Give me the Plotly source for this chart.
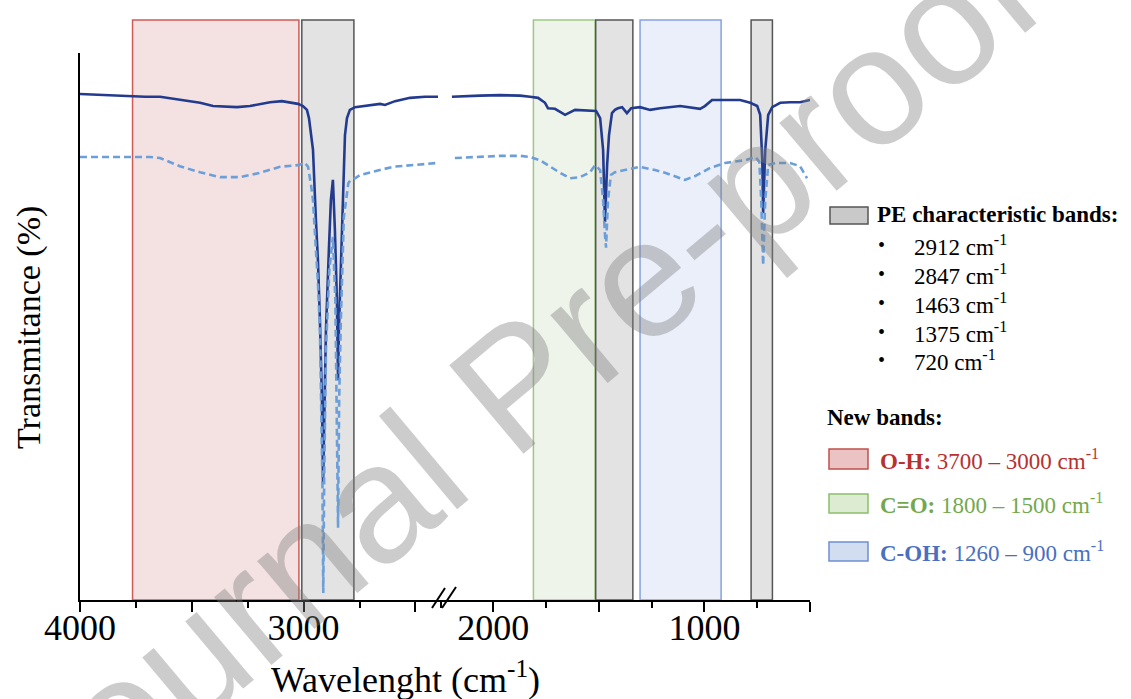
import plotly.graph_objects as go

# ---------------- data ----------------
# Spectrum 1 (solid, dark blue)
solid_wn = [4000, 3790, 3709, 3642, 3553, 3463, 3405, 3298, 3240, 3150, 3097, 3025, 3003, 2985,
            2976, 2967, 2958, 2945, 2936, 2927, 2918, 2913, 2909, 2900, 2887, 2878, 2869, 2860,
            2851, 2846, 2842, 2833, 2829, 2820, 2815, 2806, 2793, 2770, 2726, 2658, 2636, 2591,
            2524, 2457, 2399,
            2196, 2144, 2063, 1968, 1873, 1826, 1788, 1755, 1741, 1708, 1660, 1613, 1542, 1513,
            1494, 1480, 1471, 1461, 1452, 1438, 1424, 1410, 1390, 1367, 1347, 1305, 1257, 1210,
            1115, 1021, 998, 964, 831, 783, 750, 736, 726, 722, 712, 698, 679, 641, 594, 547, 500]
solid_T = [92.5, 92.1, 92.0, 92.0, 91.4, 90.9, 90.3, 90.1, 90.3, 91.0, 91.2, 90.7, 90.3, 89.6,
           88.1, 85.0, 82.3, 69.5, 62.2, 51.2, 36.6, 21.4, 32.9, 49.4, 64.0, 73.1, 76.8, 67.6,
           54.8, 40.2, 49.4, 60.3, 64.0, 78.6, 85.0, 88.1, 89.6, 90.1, 90.3, 90.7, 90.5, 91.2,
           91.8, 92.0, 92.0,
           92.0, 92.1, 92.2, 92.3, 92.2, 92.0, 91.8, 90.9, 89.9, 89.8, 88.7, 89.6, 89.4, 89.4,
           88.1, 82.3, 69.1, 79.5, 85.0, 89.0, 89.6, 89.9, 90.1, 89.0, 89.9, 90.1, 89.6, 89.9,
           90.3, 89.8, 90.3, 91.4, 91.4, 90.9, 90.3, 88.7, 80.4, 70.7, 82.3, 88.7, 90.1, 90.9,
           91.0, 91.0, 91.4]

# Spectrum 2 (dashed, light blue)
dashed_wn = [4000, 3821, 3687, 3642, 3598, 3553, 3463, 3374, 3284, 3195, 3106, 3025, 2994, 2980,
             2967, 2958, 2945, 2936, 2927, 2922, 2916, 2912, 2908, 2900, 2885, 2869, 2858, 2850,
             2846, 2841, 2833, 2820, 2800, 2790, 2770, 2747, 2658, 2600, 2400,
             2182, 2063, 1968, 1873, 1826, 1779, 1731, 1684, 1637, 1589, 1542, 1518, 1494, 1480,
             1471, 1466, 1457, 1443, 1424, 1376, 1305, 1234, 1187, 1092, 1044, 973, 902, 807,
             759, 740, 731, 722, 712, 698, 665, 594, 547, 514]
dashed_T = [81.0, 81.0, 81.0, 80.8, 80.1, 79.3, 78.2, 77.3, 77.3, 78.1, 79.2, 79.5, 79.9, 79.2,
            75.9, 73.1, 64.0, 58.0, 49.4, 39.7, 21.9, 1.3, 21.9, 45.7, 60.3, 66.4, 54.8, 27.4,
            13.2, 36.6, 51.7, 70.0, 76.2, 76.8, 77.1, 77.7, 78.6, 79.2, 79.9,
            80.8, 81.0, 81.2, 81.2, 81.0, 80.4, 79.2, 78.1, 77.1, 77.3, 78.2, 79.5, 78.6, 73.1,
            66.7, 64.4, 73.1, 77.7, 78.2, 78.6, 79.2, 78.6, 78.1, 76.8, 77.5, 79.0, 79.9, 80.4,
            81.0, 80.1, 73.1, 61.2, 73.1, 79.5, 79.9, 79.9, 79.3, 77.1]

# Highlighted bands (wavenumber limits as drawn)
oh_band = [3765, 3021]
pe_band_1 = [3008, 2775]
co_band = [1810, 1518]
pe_band_2 = [1515, 1339]
coh_band = [1305, 921]
pe_band_3 = [779, 678]

# Axis ranges / ticks
left_range = [4000, 2390]
right_range = [2252.5, 500]
major_step = 500
minor_step = 250

# Legend texts
pe_labels = ["2912", "2847", "1463", "1375", "720"]
new_band_labels = ["<b>O-H:</b> 3700 – 3000 cm<sup>-1</sup>",
                   "<b>C=O:</b> 1800 – 1500 cm<sup>-1</sup>",
                   "<b>C-OH:</b> 1260 – 900 cm<sup>-1</sup>"]

BREAK = 2300  # wavenumber gap separating the two axis segments

# ---------------- geometry helpers ----------------
W, H = 1131, 699
PL, PR, PT, PB = 80, 810, 53, 600


def fx(px):
    return (px - PL) / (PR - PL)


def fy(py):
    return (PB - py) / (PB - PT)


split = fx(440)
SERIF = "Liberation Serif"

SOLID_C = "#233B8E"
DASH_C = "#6C9FDA"

fig = go.Figure()


def seg(xs, ys, left):
    pts = [(a, b) for a, b in zip(xs, ys) if (a >= BREAK) == left]
    return [p[0] for p in pts], [p[1] for p in pts]


for left, xa in [(True, "x"), (False, "x2")]:
    x, y = seg(solid_wn, solid_T, left)
    fig.add_trace(go.Scatter(x=x, y=y, xaxis=xa, yaxis="y", mode="lines",
                             line=dict(color=SOLID_C, width=2.6), hoverinfo="skip"))
for left, xa in [(True, "x"), (False, "x2")]:
    x, y = seg(dashed_wn, dashed_T, left)
    fig.add_trace(go.Scatter(x=x, y=y, xaxis=xa, yaxis="y", mode="lines",
                             line=dict(color=DASH_C, width=2.6, dash="7px,4px"),
                             hoverinfo="skip"))

# ---------------- band rectangles ----------------
rect_top = fy(20)
bands = [
    (oh_band, "x", "#F4E2E2", "#CF5B57"),
    (pe_band_1, "x", "#E3E3E3", "#555555"),
    (co_band, "x2", "#EEF4EA", "#9DC783"),
    (pe_band_2, "x2", "#E3E3E3", "#555555"),
    (coh_band, "x2", "#EAEFF9", "#86A3DF"),
    (pe_band_3, "x2", "#E3E3E3", "#555555"),
]
for rng, xa, fill, edge in bands:
    fig.add_shape(type="rect", xref=xa, yref="paper", x0=rng[0], x1=rng[1],
                  y0=0, y1=rect_top, fillcolor=fill,
                  line=dict(color=edge, width=1.5), layer="below")

# axis break marks
for (x0, y0, x1, y1) in [(432, 608, 445, 588), (442, 608, 456, 587)]:
    fig.add_shape(type="line", xref="paper", yref="paper",
                  x0=fx(x0), y0=fy(y0), x1=fx(x1), y1=fy(y1),
                  line=dict(color="black", width=2))


# ---------------- legend (custom) ----------------
def box(x0, y0, x1, y1, fill, edge):
    fig.add_shape(type="rect", xref="paper", yref="paper",
                  x0=fx(x0), x1=fx(x1), y0=fy(y1), y1=fy(y0),
                  fillcolor=fill, line=dict(color=edge, width=1.5))


def text(x, y, s, size=23, color="black", anchor="left", angle=0):
    fig.add_annotation(xref="paper", yref="paper", x=fx(x), y=fy(y), text=s,
                       showarrow=False, xanchor=anchor, yanchor="middle",
                       textangle=angle,
                       font=dict(family=SERIF, size=size, color=color))


box(830, 207, 868, 224, "#C9C9C9", "#555555")
text(875, 215, "<b>PE characteristic bands:</b>")
rows_y = [245, 274, 303, 332, 360]
for lbl, yy in zip(pe_labels, rows_y):
    text(876, yy, "•", size=20)
    text(912, yy, f"{lbl} cm<sup>-1</sup>")

text(825, 417, "<b>New bands:</b>")
legend_styles = [
    (449, 469, "#EBC3C3", "#C0504D", "#B8312F"),
    (494, 513, "#DDEBD3", "#8CBF6A", "#74A84C"),
    (542, 561, "#D3DDF1", "#6F8FD4", "#4A6FC1"),
]
for lbl, (y0, y1, fill, edge, tcol) in zip(new_band_labels, legend_styles):
    box(829, y0, 868, y1, fill, edge)
    text(878, (y0 + y1) / 2, lbl, color=tcol)

# axis titles
text(405, 677, "Wavelenght (cm<sup>-1</sup>)", size=36, anchor="center")
text(29, 328, "Transmitance (%)", size=34, anchor="center", angle=-90)

# watermark
fig.add_annotation(xref="paper", yref="paper", x=fx(515), y=fy(385),
                   text="Journal Pre-proof", showarrow=False, textangle=-40,
                   xanchor="center", yanchor="middle",
                   font=dict(family="Liberation Sans", size=168,
                             color="rgba(128,128,128,0.40)"))

# ---------------- axes ----------------
axis_common = dict(showgrid=False, zeroline=False, showline=True, linecolor="black",
                   linewidth=2, ticks="outside", ticklen=10, tickwidth=2,
                   tickcolor="black", tickmode="linear", tick0=0, dtick=major_step,
                   ticklabelstep=2, ticklabelstandoff=-15,
                   tickfont=dict(family=SERIF, size=36, color="black"),
                   minor=dict(tickmode="linear", tick0=0, dtick=minor_step,
                              ticks="outside", ticklen=6, tickwidth=2,
                              tickcolor="black", showgrid=False))

fig.update_layout(
    width=W, height=H,
    margin=dict(l=PL, r=W - PR, t=PT, b=H - PB, pad=0),
    plot_bgcolor="white", paper_bgcolor="white", showlegend=False,
    xaxis=dict(domain=[0, split], range=left_range, anchor="y", **axis_common),
    xaxis2=dict(domain=[split, 1], range=right_range, anchor="y", **axis_common),
    yaxis=dict(range=[0, 100], domain=[0, 1], showgrid=False, zeroline=False,
               showline=True, linecolor="black", linewidth=2, ticks="",
               showticklabels=False),
)

fig.write_html("out.html",
               config={"displayModeBar": False, "staticPlot": True},
               post_script="document.body.style.margin='0px';"
                           "document.body.style.overflow='hidden';")
